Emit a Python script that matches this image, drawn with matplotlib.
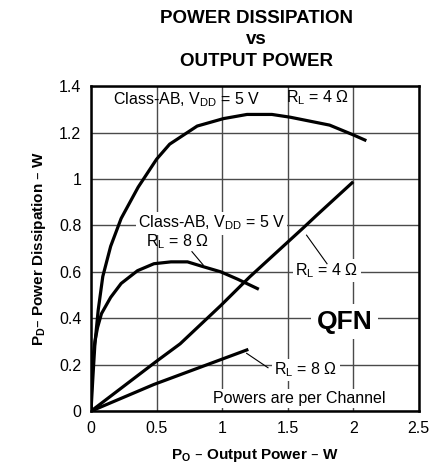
import matplotlib.pyplot as plt

plt.rcParams['font.family'] = ['Liberation Sans', 'DejaVu Sans']

# Class-AB, VDD = 5 V, RL = 4 ohm
ab4_x = [0, 0.015, 0.03, 0.055, 0.09, 0.15, 0.23, 0.36, 0.5, 0.6, 0.81, 1.01, 1.19, 1.38, 1.52, 1.82, 2.0, 2.1]
ab4_y = [0, 0.15, 0.29, 0.435, 0.58, 0.71, 0.83, 0.965, 1.085, 1.15, 1.228, 1.26, 1.278, 1.278, 1.266, 1.232, 1.19, 1.165]

# Class-AB, VDD = 5 V, RL = 8 ohm
ab8_x = [0, 0.005, 0.015, 0.03, 0.05, 0.08, 0.15, 0.23, 0.355, 0.48, 0.61, 0.736, 0.84, 0.99, 1.12, 1.28]
ab8_y = [0, 0.12, 0.23, 0.30, 0.36, 0.42, 0.49, 0.55, 0.605, 0.635, 0.643, 0.643, 0.625, 0.60, 0.568, 0.525]

# RL = 4 ohm (lower family)
r4_x = [0, 0.5, 0.68, 0.99, 1.21, 1.415, 1.62, 1.72, 2.0]
r4_y = [0, 0.215, 0.29, 0.455, 0.578, 0.684, 0.79, 0.843, 0.988]

# RL = 8 ohm (lower family)
r8_x = [0, 0.48, 1.2]
r8_y = [0, 0.115, 0.266]

xticks = [0, 0.5, 1, 1.5, 2, 2.5]
yticks = [0, 0.2, 0.4, 0.6, 0.8, 1, 1.2, 1.4]

fig = plt.figure(figsize=(4.46, 4.63), dpi=100)
ax = fig.add_axes([0.204, 0.112, 0.735, 0.702])

for xs, ys in [(ab4_x, ab4_y), (ab8_x, ab8_y), (r4_x, r4_y), (r8_x, r8_y)]:
    ax.plot(xs, ys, color='black', linewidth=2.3, solid_capstyle='butt', zorder=3)

ax.set_xlim(0, 2.5)
ax.set_ylim(0, 1.4)
ax.set_xticks(xticks)
ax.set_xticklabels(['0', '0.5', '1', '1.5', '2', '2.5'])
ax.set_yticks(yticks)
ax.set_yticklabels(['0', '0.2', '0.4', '0.6', '0.8', '1', '1.2', '1.4'])
ax.tick_params(length=0, labelsize=11.5, pad=7)
ax.grid(True, color='#4a4a4a', linewidth=1.0)
ax.set_axisbelow(True)
for s in ax.spines.values():
    s.set_linewidth(1.8)

ax.set_xlabel('P$_\\mathregular{O}$ – Output Power – W', fontsize=11, fontweight='bold', labelpad=8)
ax.set_ylabel('P$_\\mathregular{D}$– Power Dissipation – W', fontsize=11, fontweight='bold', labelpad=8)
fig.text(0.575, 0.96, 'POWER DISSIPATION', ha='center', va='center', fontsize=13.5, fontweight='bold')
fig.text(0.575, 0.914, 'vs', ha='center', va='center', fontsize=13.5, fontweight='bold')
fig.text(0.575, 0.867, 'OUTPUT POWER', ha='center', va='center', fontsize=13.5, fontweight='bold')

fs = 11.5
box = dict(facecolor='white', edgecolor='none', pad=1.5)
ax.text(0.73, 1.343, 'Class-AB, V$_\\mathregular{DD}$ = 5 V', ha='center', va='center', fontsize=fs)
ax.text(1.73, 1.35, 'R$_\\mathregular{L}$ = 4 Ω', ha='center', va='center', fontsize=fs)
ax.text(0.92, 0.81, 'Class-AB, V$_\\mathregular{DD}$ = 5 V', ha='center', va='center', fontsize=fs, bbox=box, zorder=4)
ax.text(0.663, 0.728, 'R$_\\mathregular{L}$ = 8 Ω', ha='center', va='center', fontsize=fs, zorder=4)
ax.text(1.80, 0.607, 'R$_\\mathregular{L}$ = 4 Ω', ha='center', va='center', fontsize=fs, bbox=box, zorder=4)
ax.text(1.936, 0.385, 'QFN', ha='center', va='center', fontsize=19, fontweight='bold', bbox=dict(facecolor='white', edgecolor='none', pad=4), zorder=4)
ax.text(1.64, 0.177, 'R$_\\mathregular{L}$ = 8 Ω', ha='center', va='center', fontsize=fs, bbox=box, zorder=4)
ax.text(1.585, 0.055, 'Powers are per Channel', ha='center', va='center', fontsize=fs, bbox=box, zorder=4)

# leader lines
ax.plot([0.77, 0.855], [0.687, 0.63], color='black', linewidth=0.8, zorder=4)
ax.plot([1.644, 1.80], [0.758, 0.635], color='black', linewidth=0.8, zorder=4)
ax.plot([1.187, 1.35], [0.249, 0.187], color='black', linewidth=0.8, zorder=4)

fig.savefig('out.png', dpi=100)
